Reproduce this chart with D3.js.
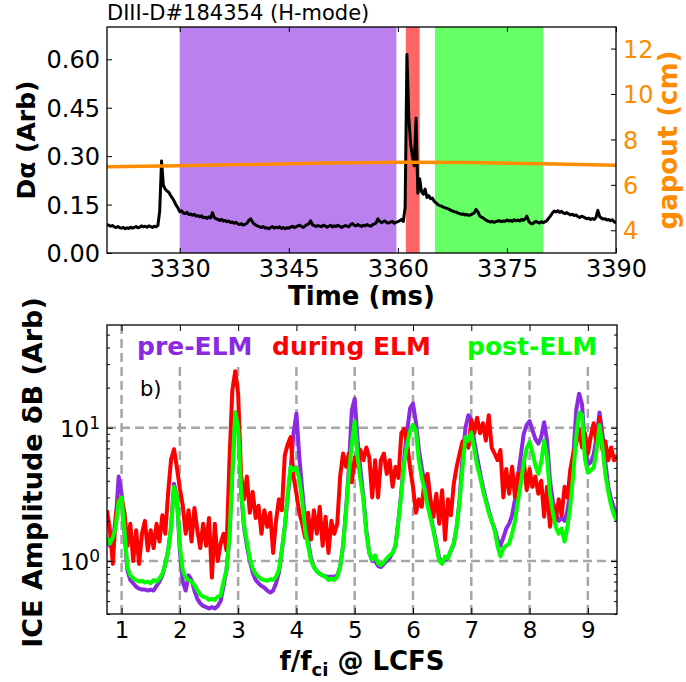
<!DOCTYPE html>
<html><head><meta charset="utf-8">
<script src="https://cdn.jsdelivr.net/npm/d3@7"></script>
<style>body{margin:0;background:#fff}svg{display:block}text{font-family:"DejaVu Sans",sans-serif}</style>
</head><body><svg id="c" width="686" height="682"></svg>
<script>
// ---------- DATA ----------
const titleText = "DIII-D#184354 (H-mode)";
const timeTicks = [3330, 3345, 3360, 3375, 3390];
const daTicks = [0, 0.15, 0.30, 0.45, 0.60];
const gapTicks = [4, 6, 8, 10, 12];
const phaseSpans = [
  {name: "pre-ELM", start: 3330, end: 3359.8, color: "#8a2be2"},
  {name: "during ELM", start: 3361.1, end: 3363.0, color: "#ff0000"},
  {name: "post-ELM", start: 3365.1, end: 3380.0, color: "#00ff00"}
];
// D-alpha trace sampled every 0.25 ms from 3320 ms (20 samples = 5 ms per row)
const daStart = 3320, daStep = 0.25;
const daValues = [
0.088,0.086,0.083,0.085,0.081,0.079,0.082,0.078,0.077,0.079,0.075,0.078,0.076,0.080,0.077,0.079,0.082,0.078,0.080,0.084,
0.081,0.083,0.080,0.084,0.082,0.079,0.083,0.081,0.085,0.130,0.285,0.210,0.198,0.192,0.188,0.178,0.170,0.160,0.148,0.140,
0.128,0.131,0.124,0.122,0.126,0.119,0.121,0.117,0.120,0.114,0.116,0.112,0.115,0.109,0.111,0.107,0.112,0.109,0.125,0.110,
0.106,0.104,0.101,0.104,0.099,0.101,0.097,0.099,0.094,0.096,0.092,0.095,0.090,0.088,0.091,0.086,0.089,0.092,0.101,0.106,
0.096,0.090,0.086,0.083,0.081,0.079,0.082,0.077,0.078,0.075,0.079,0.082,0.077,0.080,0.078,0.081,0.076,0.079,0.075,0.078,
0.077,0.080,0.083,0.079,0.081,0.084,0.086,0.082,0.079,0.084,0.088,0.090,0.100,0.088,0.085,0.082,0.085,0.083,0.081,0.086,
0.084,0.080,0.083,0.086,0.081,0.084,0.082,0.086,0.083,0.079,0.082,0.085,0.083,0.081,0.088,0.091,0.086,0.084,0.088,0.085,
0.082,0.086,0.084,0.088,0.085,0.083,0.087,0.090,0.093,0.106,0.098,0.094,0.097,0.099,0.094,0.093,0.096,0.098,0.092,0.095,
0.097,0.100,0.104,0.098,0.140,0.615,0.420,0.340,0.300,0.270,0.418,0.185,0.230,0.190,0.182,0.198,0.172,0.178,0.168,0.170,
0.160,0.155,0.150,0.147,0.145,0.142,0.140,0.138,0.136,0.133,0.130,0.128,0.127,0.124,0.122,0.120,0.121,0.118,0.119,0.117,
0.118,0.121,0.124,0.135,0.128,0.115,0.111,0.108,0.104,0.100,0.098,0.096,0.098,0.095,0.097,0.099,0.100,0.097,0.099,0.098,
0.102,0.099,0.101,0.098,0.103,0.100,0.102,0.099,0.104,0.101,0.106,0.114,0.098,0.092,0.090,0.095,0.098,0.095,0.093,0.097,
0.094,0.097,0.100,0.108,0.115,0.124,0.130,0.127,0.131,0.126,0.129,0.124,0.122,0.125,0.121,0.118,0.120,0.116,0.118,0.113,
0.110,0.114,0.112,0.109,0.106,0.108,0.104,0.107,0.104,0.110,0.132,0.113,0.108,0.105,0.106,0.102,0.104,0.100,0.103,0.097,
0.093
];
// gapout [time ms, cm]
const gapoutSeries = [[3320,6.80],[3330,6.84],[3340,6.90],[3350,6.96],[3360,7.00],[3370,6.98],[3380,6.93],[3390,6.86]];

// ICE spectra, frequency grid f/fci = 0.75, 0.80, ... 9.50 (10 per row)
const freqStart = 0.75, freqStep = 0.05;
const freqTicks = [1, 2, 3, 4, 5, 6, 7, 8, 9];
const ampTicks = [1, 10];
const preELM = [
1.5,1.3,1.5,2.0,4.3,3.2,1.6,0.85,0.72,0.68,
0.64,0.62,0.61,0.61,0.6,0.61,0.6,0.65,0.7,0.78,
0.95,1.2,1.8,3.8,3.0,1.2,0.7,0.6,0.78,0.72,
0.6,0.52,0.48,0.46,0.45,0.44,0.45,0.44,0.46,0.5,
0.65,0.85,1.5,4.6,13.0,11.5,3.4,1.8,1.3,1.0,
0.82,0.72,0.68,0.65,0.63,0.6,0.58,0.6,0.68,0.82,
1.2,1.8,3.0,4.8,9.0,12.8,6.0,3.4,2.0,1.4,
1.05,0.9,0.84,0.8,0.78,0.77,0.76,0.76,0.76,0.78,
0.9,1.3,2.4,5.0,13.5,16.5,8.0,4.8,3.0,1.7,
1.15,1.0,1.0,0.92,0.9,0.95,1.0,1.05,1.15,1.3,
2.0,3.3,6.0,9.5,14.0,15.2,11.0,6.9,5.0,3.8,
2.8,2.2,1.75,1.35,1.05,0.98,1.02,1.05,1.2,1.35,
1.8,2.9,6.0,10.0,12.4,11.5,8.0,6.0,4.6,3.6,
2.9,2.4,2.0,1.75,1.45,1.3,1.5,1.75,1.9,2.2,
2.9,4.3,6.2,9.0,10.5,11.2,9.6,8.2,7.6,8.5,
11.0,8.0,4.0,2.8,2.3,2.0,2.1,2.0,2.4,3.3,
6.0,13.5,18.0,15.0,7.0,5.3,5.5,6.3,8.5,13.0,
9.0,5.5,3.6,2.9,2.5,2.2
];
const duringELM = [
2.4,1.7,0.95,2.2,2.9,3.0,2.3,1.3,1.9,1.0,
1.7,0.95,1.6,2.0,1.2,1.7,1.25,1.9,1.4,2.2,
1.6,3.3,5.8,6.9,5.0,3.5,2.6,1.6,2.4,1.4,
2.5,1.7,1.25,1.9,1.3,2.1,0.75,1.9,1.0,1.35,
1.6,1.2,5.5,19,26.5,18,4.5,2.9,4.3,2.3,
3.3,2.1,2.6,1.6,2.4,1.8,2.3,1.15,2.0,2.9,
2.4,6.2,7.5,8.5,4.3,3.2,2.3,1.9,1.5,2.3,
1.45,2.4,1.6,2.55,1.3,2.15,1.15,2.0,1.6,1.9,
4.3,6.4,5.1,6.4,3.9,6.0,5.1,6.8,5.7,7.1,
6.0,3.0,5.7,3.0,5.7,6.4,4.5,5.7,3.6,5.1,
4.2,9.1,9.8,7.6,5.0,3.6,2.3,2.9,2.55,4.05,
4.5,2.9,2.15,3.2,1.9,3.4,1.44,2.9,2.2,3.8,
5.1,6.4,7.9,7.6,7.1,11.4,9.1,11.9,9.1,10.8,
8.0,12.4,7.1,6.4,5.7,6.8,3.0,4.9,3.2,5.1,
3.0,4.5,4.05,5.7,3.4,4.9,3.6,4.3,3.2,4.0,
2.15,3.6,1.81,2.6,2.03,2.9,2.2,3.6,3.0,4.9,
6.4,7.6,9.8,7.1,9.1,6.4,8.6,10.8,7.6,11.9,
6.8,7.9,5.7,7.1,5.7,6.2
];
const postELM = [
1.5,1.35,1.5,1.8,2.8,3.0,1.7,0.9,0.78,0.74,
0.72,0.7,0.71,0.69,0.7,0.68,0.72,0.7,0.74,0.8,
0.95,1.2,1.8,3.6,3.0,1.3,0.85,0.75,0.72,0.7,
0.66,0.6,0.56,0.54,0.53,0.51,0.52,0.51,0.54,0.55,
0.7,0.85,1.5,4.5,13.0,10.0,3.5,1.9,1.4,1.05,
0.88,0.8,0.76,0.73,0.72,0.71,0.73,0.72,0.76,0.86,
1.2,1.8,3.2,5.1,4.8,5.0,4.1,2.8,1.7,1.3,
1.0,0.9,0.84,0.8,0.78,0.76,0.72,0.74,0.72,0.76,
0.9,1.3,2.3,4.5,7.6,11.2,6.0,4.0,2.9,1.6,
1.15,1.02,1.1,0.96,0.93,0.98,1.05,1.1,1.15,1.3,
2.0,3.2,5.5,7.5,9.5,10.5,9.5,5.7,4.2,3.4,
2.6,2.1,1.7,1.3,1.0,0.95,1.08,1.05,1.2,1.35,
1.8,2.8,5.0,8.5,8.0,9.2,7.0,5.2,4.3,3.4,
2.8,2.3,2.0,1.7,1.3,1.08,1.25,1.3,1.35,1.6,
2.0,2.8,3.8,5.5,7.0,7.8,6.5,5.2,4.5,5.5,
8.0,6.0,3.2,2.3,1.8,1.6,1.75,1.4,1.8,2.6,
4.5,8.5,13.0,12.5,5.8,4.6,4.8,5.0,6.8,10.5,
7.2,4.5,3.3,2.6,2.2,2.0
];
const spectra = [
  {name: "pre-ELM", values: preELM, color: "#8a2be2"},
  {name: "during ELM", values: duringELM, color: "#ff0000"},
  {name: "post-ELM", values: postELM, color: "#00ff00"}
];

// ---------- DRAW ----------
const svg = d3.select("#c");
const FONT = "DejaVu Sans";
const ORANGE = "#ff8c00";

// ===== Top panel =====
const T = {l: 107, r: 616, t: 27, b: 253};
const xT = d3.scaleLinear().domain([3320, 3390]).range([T.l, T.r]);
const yDa = d3.scaleLinear().domain([0, 0.70]).range([T.b, T.t]);
const yGap = d3.scaleLinear().domain([3, 12.95]).range([T.b, T.t]);

svg.append("clipPath").attr("id", "clipT").append("rect")
  .attr("x", T.l).attr("y", T.t).attr("width", T.r - T.l).attr("height", T.b - T.t);
const gT = svg.append("g").attr("clip-path", "url(#clipT)");

gT.selectAll("rect.span").data(phaseSpans).join("rect")
  .attr("x", d => xT(d.start)).attr("width", d => xT(d.end) - xT(d.start))
  .attr("y", T.t).attr("height", T.b - T.t)
  .attr("fill", d => d.color).attr("fill-opacity", 0.6);

gT.append("path").datum(daValues)
  .attr("d", d3.line().x((d, i) => xT(daStart + i * daStep)).y(d => yDa(d)))
  .attr("fill", "none").attr("stroke", "#000").attr("stroke-width", 3).attr("stroke-linejoin", "round");

gT.append("path").datum(gapoutSeries)
  .attr("d", d3.line().curve(d3.curveMonotoneX).x(d => xT(d[0])).y(d => yGap(d[1])))
  .attr("fill", "none").attr("stroke", ORANGE).attr("stroke-width", 3.5);

function styleAxis(g) {
  g.select(".domain").remove();
  g.selectAll(".tick line").attr("stroke", "#000").attr("stroke-width", 1);
  g.selectAll("text").attr("font-family", FONT).attr("fill", "#000");
}

const axTB = svg.append("g").attr("transform", `translate(0,${T.b})`)
  .call(d3.axisBottom(xT).tickValues(timeTicks).tickFormat(d3.format("d")).tickSize(-5));
styleAxis(axTB);
axTB.selectAll("text").attr("font-size", 24).attr("y", 24).attr("dy", null);
const axTT = svg.append("g").attr("transform", `translate(0,${T.t})`)
  .call(d3.axisTop(xT).tickValues(timeTicks).tickFormat("").tickSize(-5));
styleAxis(axTT);
const axTL = svg.append("g").attr("transform", `translate(${T.l},0)`)
  .call(d3.axisLeft(yDa).tickValues(daTicks).tickFormat(d3.format(".2f")).tickSize(-5).tickPadding(7));
styleAxis(axTL);
axTL.selectAll("text").attr("font-size", 24).attr("dy", "0.36em");
const axTR = svg.append("g").attr("transform", `translate(${T.r},0)`)
  .call(d3.axisRight(yGap).tickValues(gapTicks).tickFormat(d3.format("d")).tickSize(-5).tickPadding(7));
styleAxis(axTR);
axTR.selectAll("text").attr("font-size", 24).attr("fill", ORANGE).attr("dy", "0.36em");

svg.append("rect").attr("x", T.l).attr("y", T.t).attr("width", T.r - T.l).attr("height", T.b - T.t)
  .attr("fill", "none").attr("stroke", "#000").attr("stroke-width", 1.3);

svg.append("text").attr("x", T.l).attr("y", 20).attr("font-size", 21).attr("font-family", FONT)
  .text(titleText);
svg.append("text").attr("transform", `translate(35,${(T.t + T.b) / 2}) rotate(-90)`)
  .attr("text-anchor", "middle").attr("font-size", 25).attr("font-weight", "bold").attr("font-family", FONT)
  .text("Dα (Arb)");
svg.append("text").attr("transform", `translate(677,${(T.t + T.b) / 2}) rotate(-90)`)
  .attr("text-anchor", "middle").attr("font-size", 26).attr("font-weight", "bold").attr("font-family", FONT)
  .attr("fill", ORANGE).text("gapout (cm)");
svg.append("text").attr("x", (T.l + T.r) / 2).attr("y", 305)
  .attr("text-anchor", "middle").attr("font-size", 26).attr("font-weight", "bold").attr("font-family", FONT)
  .text("Time (ms)");

// ===== Bottom panel =====
const B = {l: 107, r: 617, t: 325, b: 614};
const xB = d3.scaleLinear().domain([0.75, 9.5]).range([B.l, B.r]);
const yB = d3.scaleLog().domain([0.4, 59]).range([B.b, B.t]);

svg.append("clipPath").attr("id", "clipB").append("rect")
  .attr("x", B.l).attr("y", B.t).attr("width", B.r - B.l).attr("height", B.b - B.t);
const gB = svg.append("g").attr("clip-path", "url(#clipB)");

const gridStyle = g => g.attr("stroke", "#a6a6a6").attr("stroke-width", 2.5).attr("stroke-dasharray", "9,5");
gB.selectAll("line.vg").data(freqTicks).join("line")
  .attr("x1", d => xB(d)).attr("x2", d => xB(d)).attr("y1", B.b).attr("y2", B.t).call(gridStyle);
gB.selectAll("line.hg").data(ampTicks).join("line")
  .attr("x1", B.l).attr("x2", B.r).attr("y1", d => yB(d)).attr("y2", d => yB(d)).call(gridStyle);

const lineB = d3.line().x((d, i) => xB(freqStart + i * freqStep)).y(d => yB(d));
gB.selectAll("path.spec").data(spectra).join("path")
  .attr("d", d => lineB(d.values))
  .attr("fill", "none").attr("stroke", d => d.color).attr("stroke-width", 4)
  .attr("stroke-linejoin", "round");

gB.append("rect").attr("x", 128).attr("y", B.t).attr("width", 480).attr("height", 40).attr("fill", "#fff");
const legX = [137, 272, 467];
svg.selectAll("text.leg").data(spectra).join("text")
  .attr("x", (d, i) => legX[i]).attr("y", 355)
  .attr("font-size", 25).attr("font-weight", "bold").attr("font-family", FONT)
  .attr("fill", d => d.color).text(d => d.name);

svg.append("text").attr("x", 140).attr("y", 396).attr("font-size", 21).attr("font-family", FONT).text("b)");

const axBB = svg.append("g").attr("transform", `translate(0,${B.b})`)
  .call(d3.axisBottom(xB).tickValues(freqTicks).tickFormat(d3.format("d")).tickSize(-6));
styleAxis(axBB);
axBB.selectAll("text").attr("font-size", 23).attr("y", 24).attr("dy", null);
const axBT = svg.append("g").attr("transform", `translate(0,${B.t})`)
  .call(d3.axisTop(xB).tickValues(freqTicks).tickFormat("").tickSize(-6));
styleAxis(axBT);

const minorTicks = [0.4,0.5,0.6,0.7,0.8,0.9,2,3,4,5,6,7,8,9,20,30,40,50];
[["L", B.l, d3.axisLeft], ["R", B.r, d3.axisRight]].forEach(([k, x, fn]) => {
  const gM = svg.append("g").attr("transform", `translate(${x},0)`)
    .call(fn(yB).tickValues(minorTicks).tickFormat("").tickSize(-3));
  styleAxis(gM);
  const gJ = svg.append("g").attr("transform", `translate(${x},0)`)
    .call(fn(yB).tickValues(ampTicks).tickFormat("").tickSize(-6));
  styleAxis(gJ);
  if (k === "L") {
    gJ.selectAll(".tick").each(function(d) {
      const t = d3.select(this).append("text").attr("x", -7).attr("y", 9)
        .attr("text-anchor", "end").attr("font-family", FONT).attr("fill", "#000").attr("font-size", 23);
      t.append("tspan").text("10");
      t.append("tspan").attr("dy", -8).attr("font-size", 17).text(Math.round(Math.log10(d)));
    });
  }
});

svg.append("rect").attr("x", B.l).attr("y", B.t).attr("width", B.r - B.l).attr("height", B.b - B.t)
  .attr("fill", "none").attr("stroke", "#000").attr("stroke-width", 1.3);

svg.append("text").attr("transform", `translate(42,${(B.t + B.b) / 2 + 3}) rotate(-90)`)
  .attr("text-anchor", "middle").attr("font-size", 27).attr("font-weight", "bold").attr("font-family", FONT)
  .text("ICE Amplitude δB (Arb)");
const xl = svg.append("text").attr("x", (B.l + B.r) / 2).attr("y", 670)
  .attr("text-anchor", "middle").attr("font-size", 26).attr("font-weight", "bold").attr("font-family", FONT);
xl.append("tspan").text("f/f");
xl.append("tspan").attr("font-size", 18).attr("dy", 6).text("ci");
xl.append("tspan").attr("dy", -6).text(" @ LCFS");
</script></body></html>
